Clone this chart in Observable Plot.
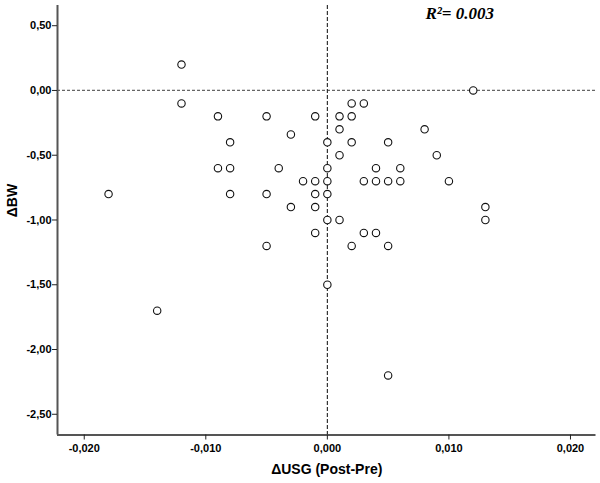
<!DOCTYPE html>
<html>
<head>
<meta charset="utf-8">
<script src="https://cdn.jsdelivr.net/npm/d3@7"></script>
<script src="https://cdn.jsdelivr.net/npm/@observablehq/plot@0.6"></script>
<style>
  html, body { margin: 0; padding: 0; background: #fff; }
</style>
</head>
<body>
<div id="chart"></div>
<script>
// ΔUSG (Post-Pre) values
const dUSG = [
  -0.012, -0.012, -0.018, -0.014, -0.009, -0.009, -0.008, -0.008, -0.008,
  -0.005, -0.005, -0.005, -0.003, -0.004, -0.002, -0.003,
  -0.001, -0.001, -0.001, -0.001, -0.001,
  0, 0, 0, 0, 0, 0,
  0.001, 0.001, 0.001, 0.001,
  0.002, 0.003, 0.002, 0.002, 0.002,
  0.003, 0.003, 0.004, 0.004, 0.004,
  0.005, 0.005, 0.005, 0.005,
  0.006, 0.006, 0.008, 0.009, 0.010, 0.012, 0.013, 0.013
];
// ΔBW values
const dBW = [
  0.2, -0.1, -0.8, -1.7, -0.2, -0.6, -0.4, -0.6, -0.8,
  -0.2, -0.8, -1.2, -0.34, -0.6, -0.7, -0.9,
  -0.2, -0.7, -0.8, -0.9, -1.1,
  -0.4, -0.6, -0.7, -0.8, -1.0, -1.5,
  -1.0, -0.2, -0.3, -0.5,
  -0.1, -0.1, -0.2, -0.4, -1.2,
  -0.7, -1.1, -1.1, -0.6, -0.7,
  -0.4, -0.7, -1.2, -2.2,
  -0.6, -0.7, -0.3, -0.5, -0.7, 0.0, -0.9, -1.0
];
const xTicks = [-0.02, -0.01, 0, 0.01, 0.02];
const yTicks = [0.5, 0, -0.5, -1, -1.5, -2, -2.5];
const xDomain = [-0.0222, 0.0221];
const yDomain = [-2.66, 0.656];
const refX = [0];
const refY = [0];
const xTitle = ["ΔUSG (Post-Pre)"];
const yTitle = ["ΔBW"];
const annotation = ["R²= 0.003"];

const data = dUSG.map((x, i) => ({x, y: dBW[i]}));

const loc = d3.formatLocale({decimal: ",", thousands: ".", grouping: [3], currency: ["", ""], minus: "-"});
const fx = loc.format(".3f");
const fy = loc.format(".2f");

const chart = Plot.plot({
  width: 600,
  height: 483,
  marginLeft: 57,
  marginRight: 4.5,
  marginTop: 5,
  marginBottom: 48.5,
  style: {fontFamily: "'Liberation Sans', Arial, sans-serif", fontSize: "11px", fontWeight: "bold", color: "#000", background: "#fff"},
  x: {domain: xDomain},
  y: {domain: yDomain},
  marks: [
    Plot.ruleY(refY, {stroke: "#666", strokeWidth: 1.3, strokeDasharray: "3,2"}),
    Plot.ruleX(refX, {stroke: "#222", strokeWidth: 1.1, strokeDasharray: "4,2"}),
    Plot.ruleX([xDomain[0]], {stroke: "#555", strokeWidth: 2}),
    Plot.ruleY([yDomain[0]], {stroke: "#555", strokeWidth: 2}),
    Plot.axisX({ticks: xTicks, tickFormat: fx, tickSize: 5, tickPadding: 4, label: null, stroke: "#222"}),
    Plot.axisY({ticks: yTicks, tickFormat: fy, tickSize: 5, tickPadding: 1, label: null, stroke: "#222"}),
    Plot.dot(data, {x: "x", y: "y", r: 3.7, fill: "#fff", stroke: "#111", strokeWidth: 1.1}),
    Plot.text(xTitle, {frameAnchor: "bottom", dy: 34.5, fontSize: 14, fontWeight: "bold", lineAnchor: "middle"}),
    Plot.text(yTitle, {frameAnchor: "left", dx: -45, dy: -3, rotate: -90, fontSize: 14, fontWeight: "bold", lineAnchor: "middle"}),
    Plot.text(annotation, {frameAnchor: "top-right", dx: -102, dy: 1, textAnchor: "end", lineAnchor: "top", fontSize: 17, fontWeight: "bold", fontStyle: "italic", fontFamily: "'Liberation Serif', 'Times New Roman', serif"})
  ]
});
document.getElementById("chart").appendChild(chart);
</script>
</body>
</html>
